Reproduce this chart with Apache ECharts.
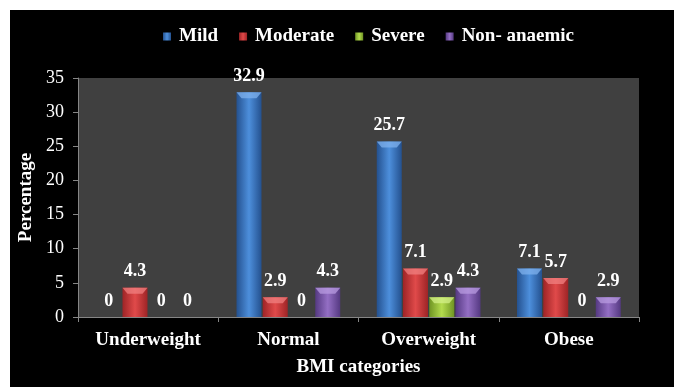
<!DOCTYPE html>
<html>
<head>
<meta charset="utf-8">
<script src="https://cdn.jsdelivr.net/npm/echarts@6/dist/echarts.min.js"></script>
<style>
html,body{margin:0;padding:0;background:#fff;}
#chart{width:674px;height:387px;}
</style>
</head>
<body>
<div id="chart"></div>
<script>
var categories = ['Underweight', 'Normal', 'Overweight', 'Obese'];
var seriesNames = ['Mild', 'Moderate', 'Severe', 'Non- anaemic'];
var mild = [0, 32.9, 25.7, 7.1];
var moderate = [4.3, 2.9, 7.1, 5.7];
var severe = [0, 0, 2.9, 0];
var nonAnaemic = [0, 4.3, 4.3, 2.9];
var yTicks = [0, 5, 10, 15, 20, 25, 30, 35];

var FONT = '"Liberation Serif", "Times New Roman", serif';
var palettes = [
  ['#24518f', '#4d8fdc', '#24518f', '#7fb2ee'],
  ['#9e2426', '#e04a4a', '#9e2426', '#f08080'],
  ['#6f9423', '#b4dc4e', '#6f9423', '#d4f088'],
  ['#553982', '#946fc4', '#553982', '#b89be0']
];
function grad(p) {
  return new echarts.graphic.LinearGradient(0, 0, 1, 0, [
    {offset: 0, color: p[0]}, {offset: 0.5, color: p[1]}, {offset: 1, color: p[2]}
  ]);
}
var BAR_W = 25, BAR_GAP = 1.25;
var values = [mild, moderate, severe, nonAnaemic];
var series = values.map(function (arr, i) {
  return {
    name: seriesNames[i],
    type: 'bar',
    data: arr,
    barWidth: BAR_W,
    barGap: '5%',
    itemStyle: {color: grad(palettes[i])},
    label: {
      show: true, position: 'top', distance: 7,
      color: '#fff', fontFamily: FONT, fontWeight: 'bold', fontSize: 18
    }
  };
});
// bevel highlight on the bar tops
values.forEach(function (arr, i) {
  series.push({
    type: 'custom',
    silent: true,
    z: 3,
    data: arr.map(function (v, k) { return [k, v]; }),
    renderItem: function (params, api) {
      var v = api.value(1);
      if (!v) return null;
      var p = api.coord([api.value(0), v]);
      var off = (i - 1.5) * (BAR_W + BAR_GAP);
      var x0 = p[0] + off - BAR_W / 2, x1 = x0 + BAR_W;
      var y = p[1], h = 6;
      return {
        type: 'polygon',
        shape: {points: [[x0, y], [x1, y], [x1 - 5, y + h], [x0 + 5, y + h]]},
        style: {fill: palettes[i][3], opacity: 0.75}
      };
    }
  });
});

var chart = echarts.init(document.getElementById('chart'), null, {renderer: 'canvas'});
chart.setOption({
  backgroundColor: '#fff',
  animation: false,
  graphic: [{
    type: 'rect', silent: true, z: -10,
    shape: {x: 10, y: 10, width: 664, height: 377},
    style: {fill: '#000'}
  }],
  legend: {
    data: seriesNames,
    left: 158, top: 22,
    itemWidth: 8, itemHeight: 8, itemGap: 21,
    icon: 'rect',
    textStyle: {color: '#fff', fontFamily: FONT, fontWeight: 'bold', fontSize: 19, padding: [0, 0, 0, 3]}
  },
  grid: {
    left: 78, right: 35, top: 78, bottom: 70,
    show: true, backgroundColor: '#404040', borderWidth: 0
  },
  xAxis: {
    type: 'category',
    data: categories,
    name: 'BMI categories',
    nameLocation: 'middle',
    nameGap: 41,
    nameTextStyle: {color: '#fff', fontFamily: FONT, fontWeight: 'bold', fontSize: 19},
    axisLine: {lineStyle: {color: '#868686', width: 1}},
    axisTick: {show: true, length: 5, lineStyle: {color: '#868686'}},
    axisLabel: {color: '#fff', fontFamily: FONT, fontWeight: 'bold', fontSize: 19, margin: 14},
    splitLine: {show: false}
  },
  yAxis: {
    type: 'value',
    min: yTicks[0], max: yTicks[yTicks.length - 1], interval: 5,
    name: 'Percentage',
    nameLocation: 'middle',
    nameGap: 40,
    nameRotate: 90,
    nameTextStyle: {color: '#fff', fontFamily: FONT, fontWeight: 'bold', fontSize: 19},
    axisLine: {show: true, lineStyle: {color: '#868686', width: 1}},
    axisTick: {show: true, length: 5, lineStyle: {color: '#868686'}},
    axisLabel: {color: '#fff', fontFamily: FONT, fontSize: 18, margin: 14},
    splitLine: {show: false}
  },
  series: series
});
</script>
</body>
</html>
